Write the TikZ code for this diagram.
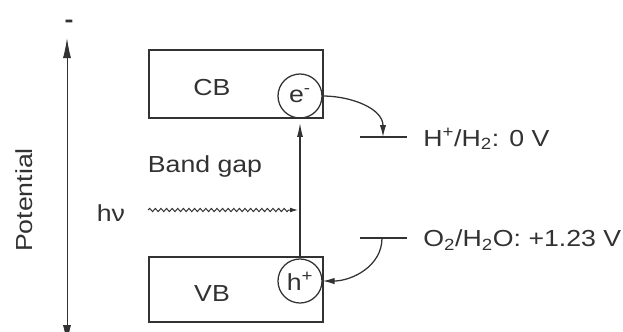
\documentclass[tikz,border=0pt]{standalone}
\usepackage{fontspec}
\setmainfont{Liberation Sans}[FakeStretch=1.15]
\usepackage{tikz}
\usetikzlibrary{arrows.meta, decorations.pathmorphing}
\definecolor{inkgray}{RGB}{50, 50, 50}

\begin{document}
\begin{tikzpicture}[x=0.025cm, y=-0.025cm, line width=0.9pt, color=inkgray,
    every node/.style={font=\fontsize{16.5}{19}\selectfont},
    band/.style={draw, rectangle, minimum width=4.35cm, inner sep=0pt},
    carrier/.style={draw, circle, minimum size=1.1cm, inner sep=0pt},
    tip/.style={-{Latex[length=3mm, width=1.6mm]}}]
        \useasboundingbox (0,0) rectangle (623,331);
        \clip (0,0) rectangle (623,331);
        % Potential axis
        \coordinate (axtop) at (67,38);
        \coordinate (axbot) at (67,345);
        \draw[{Latex[length=5mm, width=2mm]}-{Latex[length=5mm, width=2mm]}, line width=0.7pt] (axbot) -- (axtop);
        \node[font=\fontsize{16.5}{19}\selectfont\bfseries] (minus) at (69,24) {-};
        \node[rotate=90] (pot) at (24,200) {Potential};
        % Bands
        \node[band, minimum height=1.7cm] (cb) at (236,84) {};
        \node[band, minimum height=1.625cm] (vb) at (236,289.5) {};
        \node (cbtext) at (212,88) {CB};
        \node (vbtext) at (212,294) {VB};
        \node (gap) at (205,166) {Band gap};
        % Electron and hole
        \node[carrier] (e) at (300,96) {e\textsuperscript{-}};
        \node[carrier] (h) at (300,281) {h\textsuperscript{+}};
        \draw[-{Latex[length=3.5mm, width=1.5mm]}, shorten >=3pt] (h) -- (e);
        % Photon
        \node (hv) at (111,213) {hν};
        \coordinate (hvs) at (148,210);
        \coordinate (hve) at (298,210);
        \draw[decorate, decoration={snake, amplitude=0.4mm, segment length=1.4mm, post length=2mm},
          -{Latex[length=2mm, width=1.2mm]}, line width=0.7pt] (hvs) -- (hve);
        % Redox levels
        \coordinate (hl) at (360,137);
        \coordinate (hr) at (407,137);
        \coordinate (hm) at (383,137);
        \draw (hl) -- (hr);
        \node[anchor=west] (hlabel) at (418,139) {H\textsuperscript{+}/H\textsubscript{2}: 0 V};
        \coordinate (ol) at (360,238);
        \coordinate (or) at (407,238);
        \coordinate (om) at (382,238);
        \draw (ol) -- (or);
        \node[anchor=west] (olabel) at (418,240) {O\textsubscript{2}/H\textsubscript{2}O: +1.23 V};
        % Transfers
        \draw[tip] (e.east) to[out=0, in=90] (hm);
        \draw[tip] (om) to[out=-90, in=0] (h.east);
\end{tikzpicture}
\end{document}
